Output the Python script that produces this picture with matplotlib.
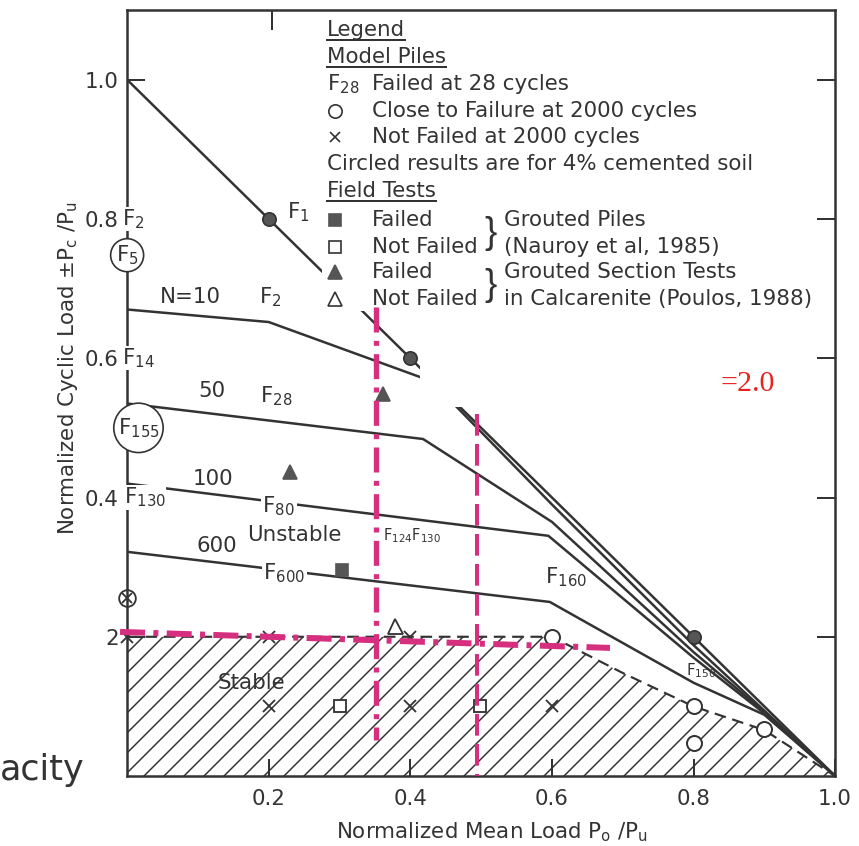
import matplotlib
matplotlib.use("Agg")
import matplotlib.pyplot as plt
from matplotlib.lines import Line2D
from matplotlib.patches import Rectangle

plt.rcParams['font.family'] = ['DejaVu Sans']
plt.rcParams['mathtext.default'] = 'regular'
plt.rcParams['lines.scale_dashes'] = False
plt.rcParams['hatch.linewidth'] = 0.9

INK = '#333333'
PINK = '#d62f80'
FS = 12.8

# load curves for N cycles (x = Po/Pu, y = Pc/Pu)
n1_x = [0.0, 1.0]
n1_y = [1.0, 0.0]
n10_x = [0.0, 0.2, 0.43, 0.6, 0.8, 0.9, 1.0]
n10_y = [0.67, 0.652, 0.567, 0.39, 0.188, 0.094, 0.0]
n50_x = [0.0, 0.418, 0.6, 0.8, 0.9, 1.0]
n50_y = [0.535, 0.484, 0.365, 0.178, 0.092, 0.0]
n100_x = [0.0, 0.595, 0.8, 0.9, 1.0]
n100_y = [0.42, 0.345, 0.17, 0.09, 0.0]
n600_x = [0.0, 0.597, 0.8, 0.9, 1.0]
n600_y = [0.322, 0.25, 0.134, 0.088, 0.0]

# stable zone boundary
stable_x = [0.0, 0.6, 0.7, 0.8, 0.9, 1.0]
stable_y = [0.2, 0.2, 0.148, 0.1, 0.066, 0.0]

# model piles
failed_x = [0.2, 0.4, 0.8]
failed_y = [0.8, 0.6, 0.2]
close_x = [0.6, 0.8, 0.9, 0.8]
close_y = [0.2, 0.1, 0.068, 0.047]
notfailed_x = [0.0, 0.2, 0.4, 0.2, 0.4, 0.6]
notfailed_y = [0.2, 0.2, 0.2, 0.1, 0.1, 0.1]
cemented_x = [0.0]
cemented_y = [0.255]

# field tests
pile_failed_x = [0.304]
pile_failed_y = [0.296]
pile_ok_x = [0.3, 0.498]
pile_ok_y = [0.1, 0.1]
section_failed_x = [0.23, 0.362]
section_failed_y = [0.437, 0.548]
section_ok_x = [0.378]
section_ok_y = [0.215]

# overlaid guide lines (pink)
guide_v1_x = [0.352, 0.352]
guide_v1_y = [0.673, 0.052]
guide_h_x = [-0.01, 0.682]
guide_h_y = [0.207, 0.184]
guide_v2_x = [0.494, 0.494]
guide_v2_y = [0.52, 0.0]

# text labels on the plot: (text, x, y, size, ha, white box)
labels = [
    ('F$_1$', 0.226, 0.81, FS, 'left', False),
    ('N=10', 0.09, 0.688, FS, 'center', False),
    ('F$_2$', 0.202, 0.688, FS, 'center', False),
    ('50', 0.12, 0.553, FS, 'center', False),
    ('F$_{28}$', 0.21, 0.545, FS, 'center', False),
    ('100', 0.121, 0.427, FS, 'center', False),
    ('F$_{80}$', 0.214, 0.387, FS, 'center', True),
    ('600', 0.127, 0.33, FS, 'center', False),
    ('Unstable', 0.236, 0.346, FS, 'center', False),
    ('F$_{600}$', 0.222, 0.292, FS, 'center', True),
    ('F$_{124}$F$_{130}$', 0.362, 0.345, 8.8, 'left', False),
    ('F$_{160}$', 0.59, 0.286, FS, 'left', False),
    ('F$_{150}$', 0.79, 0.152, 9, 'left', False),
    ('Stable', 0.175, 0.134, FS, 'center', False),
]
axis_labels = [('F$_2$', -0.007, 0.8), ('F$_{14}$', -0.007, 0.6), ('F$_{130}$', -0.005, 0.4)]
circled = [('F$_5$', 0.0, 0.748, 0.22), ('F$_{155}$', 0.016, 0.50, 0.18)]

x_ticks = [0.2, 0.4, 0.6, 0.8, 1.0]
x_ticklabels = ['0.2', '0.4', '0.6', '0.8', '1.0']
y_ticks = [0.2, 0.4, 0.6, 0.8, 1.0]
y_ticklabels = ['2', '0.4', '0.6', '0.8', '1.0']
top_ticks = [0.205, 0.393, 0.58, 0.77]

fig = plt.figure(figsize=(859 / 120, 846 / 120), dpi=120)
ax = fig.add_axes([0.148, 0.0827, 0.8242, 0.9054])
ax.set_xlim(0, 1.0)
ax.set_ylim(0, 1.1)

# hatched stable zone
ax.fill_between(stable_x, 0, stable_y, facecolor='none', edgecolor=INK,
                hatch='//', linewidth=0, zorder=1)
ax.plot(stable_x, stable_y, color=INK, lw=1.3, dashes=(7, 4), zorder=1.6)

for xs, ys in [(n1_x, n1_y), (n10_x, n10_y), (n50_x, n50_y), (n100_x, n100_y), (n600_x, n600_y)]:
    ax.plot(xs, ys, color=INK, lw=1.5, zorder=1.5)

mk = dict(linestyle='none', zorder=1.8, clip_on=False)
ax.plot(failed_x, failed_y, 'o', ms=8, color='#555555', mec=INK, **mk)
ax.plot(close_x, close_y, 'o', ms=9, mfc='white', mec=INK, mew=1.2, **mk)
ax.plot(notfailed_x, notfailed_y, 'x', ms=7, color=INK, mew=1.1, **mk)
ax.plot(cemented_x, cemented_y, 'o', ms=10, mfc='white', mec=INK, mew=1.1, **mk)
ax.plot(cemented_x, cemented_y, 'x', ms=6, color=INK, mew=1.1, **mk)
ax.plot(pile_failed_x, pile_failed_y, 's', ms=7, color='#555555', **mk)
ax.plot(pile_ok_x, pile_ok_y, 's', ms=7, mfc='white', mec=INK, mew=1.1, **mk)
ax.plot(section_failed_x, section_failed_y, '^', ms=8, color='#555555', **mk)
ax.plot(section_ok_x, section_ok_y, '^', ms=9, mfc='white', mec=INK, mew=1.1, **mk)

# white areas (legend box and a pasted-over patch)
ax.add_patch(Rectangle((0.275, 0.668), 0.70, 0.43, facecolor='white', edgecolor='none', zorder=2))
ax.add_patch(Rectangle((0.414, 0.53), 0.56, 0.14, facecolor='white', edgecolor='none', zorder=2))

for txt, x, y, size, ha, boxed in labels:
    kw = dict(bbox=dict(facecolor='white', edgecolor='none', pad=1)) if boxed else {}
    ax.text(x, y, txt, fontsize=size, ha=ha, va='center', color=INK, zorder=3, **kw)
for txt, x, y in axis_labels:
    ax.text(x, y, txt, fontsize=FS, ha='left', va='center', color=INK, zorder=3,
            bbox=dict(facecolor='white', edgecolor='none', pad=0.3), clip_on=False)
for txt, x, y, pad in circled:
    ax.text(x, y, txt, fontsize=FS, ha='center', va='center', color=INK, zorder=3,
            bbox=dict(boxstyle=f'circle,pad={pad}', facecolor='white', edgecolor=INK, lw=1.0),
            clip_on=False)

# legend block
leg_sym_x, leg_txt_x, leg_brace_x, leg_txt2_x = 0.294, 0.346, 0.513, 0.533
rows = [1.072, 1.033, 0.994, 0.955, 0.918, 0.879, 0.840, 0.799, 0.760, 0.724, 0.685]
tk = dict(fontsize=FS, color=INK, va='center', zorder=3)
underlined = [ax.text(leg_sym_x - 0.012, rows[0], 'Legend', **tk),
              ax.text(leg_sym_x - 0.012, rows[1], 'Model Piles', **tk),
              ax.text(leg_sym_x - 0.012, rows[6], 'Field Tests', **tk)]
ax.text(leg_sym_x - 0.012, rows[2], 'F$_{28}$', **tk)
ax.text(leg_txt_x, rows[2], 'Failed at 28 cycles', **tk)
ax.plot([leg_sym_x], [rows[3]], 'o', ms=8, mfc='white', mec=INK, zorder=3)
ax.text(leg_txt_x, rows[3], 'Close to Failure at 2000 cycles', **tk)
ax.plot([leg_sym_x], [rows[4]], 'x', ms=6, color=INK, zorder=3)
ax.text(leg_txt_x, rows[4], 'Not Failed at 2000 cycles', **tk)
ax.text(leg_sym_x - 0.012, rows[5], 'Circled results are for 4% cemented soil', **tk)
ax.plot([leg_sym_x], [rows[7]], 's', ms=7, color='#555555', zorder=3)
ax.text(leg_txt_x, rows[7], 'Failed', **tk)
ax.plot([leg_sym_x], [rows[8]], 's', ms=7, mfc='white', mec=INK, zorder=3)
ax.text(leg_txt_x, rows[8], 'Not Failed', **tk)
ax.plot([leg_sym_x], [rows[9]], '^', ms=8, color='#555555', zorder=3)
ax.text(leg_txt_x, rows[9], 'Failed', **tk)
ax.plot([leg_sym_x], [rows[10]], '^', ms=8, mfc='white', mec=INK, zorder=3)
ax.text(leg_txt_x, rows[10], 'Not Failed', **tk)
for top, bottom in [(rows[7], rows[8]), (rows[9], rows[10])]:
    ax.text(leg_brace_x, (top + bottom) / 2, '}', fontsize=22, color=INK, va='center',
            ha='center', zorder=3, family='Liberation Sans')
ax.text(leg_txt2_x, rows[7], 'Grouted Piles', **tk)
ax.text(leg_txt2_x, rows[8], '(Nauroy et al, 1985)', **tk)
ax.text(leg_txt2_x, rows[9], 'Grouted Section Tests', **tk)
ax.text(leg_txt2_x, rows[10], 'in Calcarenite (Poulos, 1988)', **tk)

# pink guide lines
ax.plot(guide_v1_x, guide_v1_y, color=PINK, lw=3.2, dashes=(15, 5, 3, 5), zorder=4, clip_on=False)
ax.plot(guide_h_x, guide_h_y, color=PINK, lw=3.6, dashes=(15, 5, 3, 5), zorder=4, clip_on=False)
ax.plot(guide_v2_x, guide_v2_y, color=PINK, lw=2.4, dashes=(13, 5), zorder=4, clip_on=False)
ax.text(0.838, 0.563, '=2.0', fontsize=18, color='#e8231f', family='Liberation Serif', va='center', zorder=4)

# axes styling
ax.set_xticks(x_ticks)
ax.set_xticklabels(x_ticklabels)
ax.set_yticks(y_ticks)
ax.set_yticklabels(y_ticklabels)
ax.tick_params(axis='x', direction='in', length=10, width=1.2, color=INK,
               labelcolor=INK, labelsize=FS, pad=8)
ax.tick_params(axis='y', direction='in', length=11, width=1.2, color=INK,
               labelcolor=INK, labelsize=FS, pad=5, right=True)
sec = ax.secondary_xaxis('top')
sec.set_xticks(top_ticks)
sec.set_xticklabels([])
sec.tick_params(direction='in', length=12, width=1.2, color=INK)
sec.spines['top'].set_visible(False)
for s in ax.spines.values():
    s.set_linewidth(1.5)
    s.set_color(INK)

ax.set_xlabel('Normalized Mean Load P$_o$ /P$_u$', fontsize=FS, color=INK)
ax.xaxis.set_label_coords(0.515, -0.058)
ax.set_ylabel('Normalized Cyclic Load ±P$_c$ /P$_u$', fontsize=FS, color=INK)
ax.yaxis.set_label_coords(-0.066, 0.533)

fig.text(0.0, 1 - 770 / 846, 'acity', fontsize=21, color=INK, va='center', ha='left')

# underline headings in the legend
fig.canvas.draw()
r = fig.canvas.get_renderer()
inv = fig.transFigure.inverted()
for t in underlined:
    bb = t.get_window_extent(r)
    base = ax.transData.transform(t.get_position())[1] - 10
    (x0, y0), (x1, _) = inv.transform([[bb.x0, base], [bb.x1, base]])
    fig.add_artist(Line2D([x0, x1], [y0, y0], color=INK, lw=1.2))

fig.savefig('out.png', dpi=120)
